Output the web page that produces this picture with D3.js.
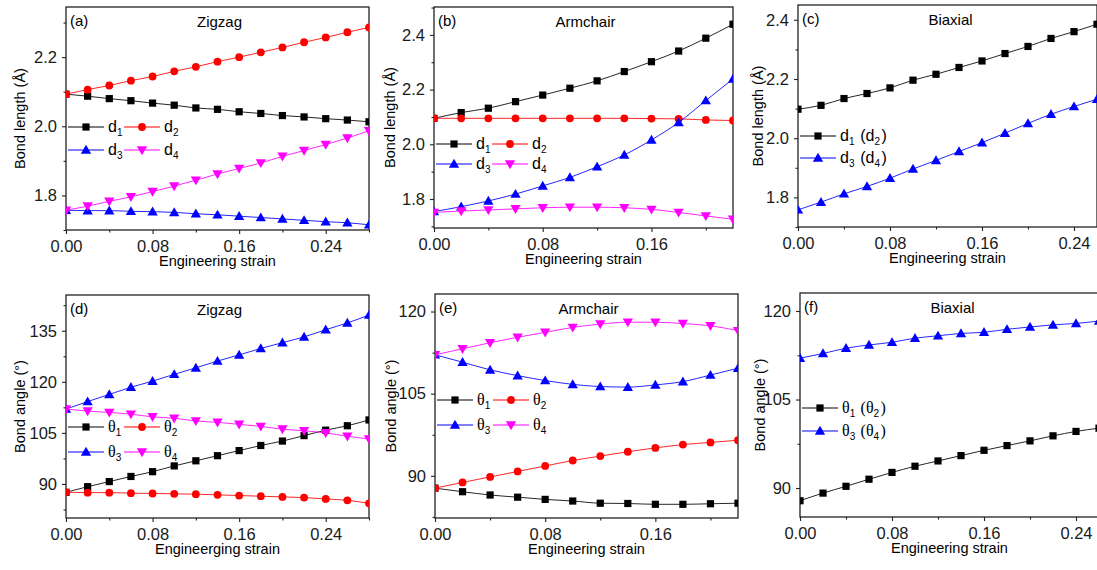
<!DOCTYPE html>
<html>
<head>
<meta charset="utf-8">
<script src="https://cdn.jsdelivr.net/npm/d3@7"></script>
<style>
  body { margin: 0; background: #fff; }
  svg { font-family: "Liberation Sans", Arial, sans-serif; }
</style>
</head>
<body>
<svg id="chart" width="1097" height="570"></svg>
<script>
// strain grids
const strain28 = [0, 0.02, 0.04, 0.06, 0.08, 0.10, 0.12, 0.14, 0.16, 0.18, 0.20, 0.22, 0.24, 0.26, 0.28];
const strain22 = [0, 0.02, 0.04, 0.06, 0.08, 0.10, 0.12, 0.14, 0.16, 0.18, 0.20, 0.22];
const strain26 = [0, 0.02, 0.04, 0.06, 0.08, 0.10, 0.12, 0.14, 0.16, 0.18, 0.20, 0.22, 0.24, 0.26];

// (a) zigzag bond lengths
const zzD1 = [2.093, 2.087, 2.080, 2.074, 2.067, 2.061, 2.053, 2.049, 2.042, 2.037, 2.031, 2.027, 2.022, 2.018, 2.013];
const zzD2 = [2.093, 2.106, 2.118, 2.132, 2.144, 2.159, 2.172, 2.187, 2.200, 2.214, 2.228, 2.243, 2.257, 2.272, 2.286];
const zzD3 = [1.757, 1.756, 1.756, 1.754, 1.753, 1.751, 1.747, 1.744, 1.740, 1.736, 1.732, 1.728, 1.724, 1.721, 1.715];
const zzD4 = [1.757, 1.769, 1.783, 1.796, 1.811, 1.827, 1.844, 1.862, 1.878, 1.894, 1.913, 1.930, 1.947, 1.966, 1.987];

// (b) armchair bond lengths
const acD1 = [2.095, 2.116, 2.132, 2.156, 2.180, 2.205, 2.232, 2.266, 2.302, 2.341, 2.388, 2.439];
const acD2 = [2.095, 2.095, 2.095, 2.095, 2.095, 2.095, 2.095, 2.095, 2.094, 2.093, 2.089, 2.087];
const acD3 = [1.754, 1.772, 1.793, 1.818, 1.848, 1.879, 1.918, 1.961, 2.016, 2.080, 2.160, 2.239];
const acD4 = [1.751, 1.756, 1.760, 1.764, 1.768, 1.770, 1.770, 1.768, 1.762, 1.751, 1.738, 1.726];

// (c) biaxial bond lengths
const bxD12 = [2.098, 2.111, 2.134, 2.151, 2.170, 2.196, 2.216, 2.239, 2.261, 2.286, 2.310, 2.337, 2.360, 2.385];
const bxD34 = [1.758, 1.784, 1.812, 1.837, 1.865, 1.896, 1.925, 1.955, 1.985, 2.017, 2.050, 2.081, 2.107, 2.132];

// (d) zigzag bond angles
const zzT1 = [87.55, 89.2, 90.7, 92.2, 93.6, 95.3, 96.8, 98.3, 99.8, 101.3, 102.6, 104.2, 105.8, 107.1, 108.8];
const zzT2 = [87.55, 87.45, 87.45, 87.3, 87.2, 87.1, 87.0, 86.8, 86.6, 86.4, 86.2, 86.0, 85.6, 85.2, 84.3];
const zzT3 = [112.0, 114.2, 116.3, 118.4, 120.2, 122.2, 124.1, 126.1, 127.9, 129.8, 131.5, 133.2, 135.3, 137.3, 139.6];
const zzT4 = [112.0, 111.4, 111.0, 110.5, 109.7, 109.3, 108.5, 108.1, 107.5, 106.9, 106.1, 105.6, 105.0, 104.0, 103.2];

// (e) armchair bond angles
const acT1 = [87.75, 87.1, 86.5, 86.1, 85.7, 85.4, 85.0, 84.95, 84.8, 84.8, 84.9, 85.0];
const acT2 = [87.75, 88.8, 89.8, 90.8, 91.8, 92.8, 93.6, 94.4, 95.1, 95.7, 96.1, 96.5];
const acT3 = [112.1, 110.75, 109.35, 108.3, 107.4, 106.7, 106.3, 106.2, 106.6, 107.2, 108.4, 109.65];
const acT4 = [112.1, 113.2, 114.3, 115.3, 116.2, 117.1, 117.7, 118.05, 118.05, 117.8, 117.4, 116.5];

// (f) biaxial bond angles
const bxT12 = [87.86, 89.15, 90.3, 91.5, 92.65, 93.7, 94.6, 95.5, 96.4, 97.2, 98.0, 98.85, 99.6, 100.15];
const bxT34 = [112.0, 112.8, 113.7, 114.25, 114.7, 115.4, 115.8, 116.2, 116.4, 116.9, 117.3, 117.65, 117.9, 118.3];

// tick labels
const xTicks28 = [0, 0.08, 0.16, 0.24];
const xTicks22 = [0, 0.08, 0.16];
const yTicksLenA = [1.8, 2.0, 2.2];
const yTicksLen = [1.8, 2.0, 2.2, 2.4];
const yTicksAngD = [90, 105, 120, 135];
const yTicksAng = [90, 105, 120];

const colors = { k: "#000000", r: "#ff0000", b: "#0000ff", m: "#ff00ff" };
const shapes = { k: "square", r: "circle", b: "up", m: "down" };

const panels = [
  { tag: "(a)", title: "Zigzag", box: [66, 369, 7, 230], xd: [0, 0.28], yd: [1.7, 2.345],
    xt: xTicks28, yt: yTicksLenA, ystep: 0.1, xs: strain28, ylab: "Bond length (Å)", ylx: 46,
    xlab: "Engineering strain", leg: [127, 150], theta: false,
    series: [["k", zzD1, "d_1"], ["r", zzD2, "d_2"], ["b", zzD3, "d_3"], ["m", zzD4, "d_4"]] },
  { tag: "(b)", title: "Armchair", box: [434, 733, 7, 228], xd: [0, 0.22], yd: [1.694, 2.502],
    xt: xTicks22, yt: yTicksLen, ystep: 0.1, xs: strain22, ylab: "Bond length (Å)", ylx: 44,
    xlab: "Engineering strain", leg: [144, 164], theta: false,
    series: [["k", acD1, "d_1"], ["r", acD2, "d_2"], ["b", acD3, "d_3"], ["m", acD4, "d_4"]] },
  { tag: "(c)", title: "Biaxial", box: [798, 1097, 5, 227], xd: [0, 0.26], yd: [1.7, 2.45],
    xt: xTicks28, yt: yTicksLen, ystep: 0.1, xs: strain26, ylab: "Bond length (Å)", ylx: 40,
    xlab: "Engineering strain", leg: [136, 158], theta: false, single: true,
    series: [["k", bxD12, "d_1 (d_2)"], ["b", bxD34, "d_3 (d_4)"]] },
  { tag: "(d)", title: "Zigzag", box: [66, 369, 295, 518], xd: [0, 0.28], yd: [80, 145.5],
    xt: xTicks28, yt: yTicksAngD, ystep: 7.5, xs: strain28, ylab: "Bond angle (°)", ylx: 46,
    xlab: "Engineerging strain", leg: [427, 452], theta: true,
    series: [["k", zzT1, "θ_1"], ["r", zzT2, "θ_2"], ["b", zzT3, "θ_3"], ["m", zzT4, "θ_4"]] },
  { tag: "(e)", title: "Armchair", box: [435, 738, 294, 518], xd: [0, 0.22], yd: [82.3, 123.2],
    xt: xTicks22, yt: yTicksAng, ystep: 7.5, xs: strain22, ylab: "Bond angle (°)", ylx: 44,
    xlab: "Engineering strain", leg: [400, 425], theta: true,
    series: [["k", acT1, "θ_1"], ["r", acT2, "θ_2"], ["b", acT3, "θ_3"], ["m", acT4, "θ_4"]] },
  { tag: "(f)", title: "Biaxial", box: [800, 1099, 293, 517], xd: [0, 0.26], yd: [85.1, 123.05],
    xt: xTicks28, yt: yTicksAng, ystep: 7.5, xs: strain26, ylab: "Bond angle (°)", ylx: 40,
    xlab: "Engineering strain", leg: [408, 431], theta: true, single: true,
    series: [["k", bxT12, "θ_1 (θ_2)"], ["b", bxT34, "θ_3 (θ_4)"]] }
];

const svg = d3.select("#chart");
const defs = svg.append("defs");

function drawMarker(g, shape, color, x, y) {
  if (shape === "square") {
    g.append("rect").attr("x", x - 3.6).attr("y", y - 3.6).attr("width", 7.2).attr("height", 7.2).attr("fill", color);
  } else if (shape === "circle") {
    g.append("circle").attr("cx", x).attr("cy", y).attr("r", 3.9).attr("fill", color);
  } else {
    const sym = d3.symbol().type(d3.symbolTriangle).size(46)();
    g.append("path").attr("d", sym).attr("fill", color)
      .attr("transform", `translate(${x},${y + (shape === "up" ? 0.8 : -0.8)})` + (shape === "down" ? " rotate(180)" : ""));
  }
}

// text with "_x" subscripts
function richText(t, str, theta) {
  const parts = str.split(/(_.)/).filter(s => s.length);
  parts.forEach(p => {
    if (p[0] === "_") {
      t.append("tspan").attr("font-size", 10).attr("dy", 4).text(p[1]);
      t.append("tspan").attr("dy", -4).text("\u200a");
    } else {
      t.append("tspan").attr("font-family", theta ? "'Liberation Serif', serif" : null).text(p);
    }
  });
}

panels.forEach((p, pi) => {
  const [x0, x1, y0, y1] = p.box;
  const x = d3.scaleLinear().domain(p.xd).range([x0, x1]);
  const y = d3.scaleLinear().domain(p.yd).range([y1, y0]);
  const g = svg.append("g");

  defs.append("clipPath").attr("id", "clip" + pi)
    .append("rect").attr("x", x0).attr("y", y0).attr("width", x1 - x0).attr("height", y1 - y0);

  // minor ticks
  const xMinor = d3.range(0.04, p.xd[1] + 1e-6, 0.08);
  const yMinor = d3.range(Math.ceil(p.yd[0] / p.ystep) * p.ystep, p.yd[1], p.ystep)
    .filter(v => !p.yt.some(t => Math.abs(t - v) < 1e-6));

  const xAxis = g.append("g").attr("transform", `translate(0,${y1})`)
    .call(d3.axisBottom(x).tickValues(p.xt).tickSize(4).tickSizeOuter(0).tickPadding(6).tickFormat(d3.format(".2f")));
  g.append("g").attr("transform", `translate(0,${y1})`)
    .call(d3.axisBottom(x).tickValues(xMinor).tickSize(2.5).tickFormat(""))
    .select(".domain").remove();
  const yAxis = g.append("g").attr("transform", `translate(${x0},0)`)
    .call(d3.axisLeft(y).tickValues(p.yt).tickSize(4).tickSizeOuter(0).tickPadding(5)
      .tickFormat(p.theta ? d3.format("d") : d3.format(".1f")));
  g.append("g").attr("transform", `translate(${x0},0)`)
    .call(d3.axisLeft(y).tickValues(yMinor).tickSize(2.5).tickFormat(""))
    .select(".domain").remove();

  [xAxis, yAxis].forEach(a => {
    a.select(".domain").remove();
    a.selectAll("text").attr("font-size", 16.5).attr("fill", "#1a1a1a").attr("font-family", "'Liberation Sans', Arial, sans-serif");
  });
  g.selectAll(".tick line").attr("stroke", "#222").attr("stroke-width", 1.1);

  // frame
  g.append("rect").attr("x", x0).attr("y", y0).attr("width", x1 - x0).attr("height", y1 - y0)
    .attr("fill", "none").attr("stroke", "#222").attr("stroke-width", 1.3);

  // series
  const plot = g.append("g").attr("clip-path", `url(#clip${pi})`);
  const line = d3.line().x(d => x(d[0])).y(d => y(d[1])).curve(d3.curveMonotoneX);
  p.series.forEach(([c, vals]) => {
    const pts = p.xs.map((s, i) => [s, vals[i]]);
    plot.append("path").attr("d", line(pts)).attr("fill", "none")
      .attr("stroke", colors[c]).attr("stroke-width", 1).attr("stroke-opacity", 0.85);
    pts.forEach(d => drawMarker(plot, shapes[c], colors[c], x(d[0]), y(d[1])));
  });

  // labels
  g.append("text").attr("x", x0 + 4).attr("y", y0 + 19).attr("font-size", 15).text(p.tag);
  g.append("text").attr("x", (x0 + x1) / 2 + (p.single ? 3 : 2)).attr("y", y0 + 20)
    .attr("text-anchor", "middle").attr("font-size", 15).text(p.title);
  g.append("text").attr("x", (x0 + x1) / 2).attr("y", y1 + 36)
    .attr("text-anchor", "middle").attr("font-size", 14.5).text(p.xlab);
  g.append("text").attr("transform", `translate(${x0 - p.ylx},${(y0 + y1) / 2}) rotate(-90)`)
    .attr("dy", "0.35em").attr("text-anchor", "middle").attr("font-size", 14.5).text(p.ylab);

  // legend
  p.series.forEach(([c, , lab], i) => {
    const col = p.single ? 0 : i % 2;
    const row = p.single ? i : Math.floor(i / 2);
    const lx = x0 + 2 + col * 56;
    const ly = p.leg[row];
    const lg = g.append("g");
    lg.append("line").attr("x1", lx).attr("x2", lx + 36).attr("y1", ly).attr("y2", ly)
      .attr("stroke", colors[c]).attr("stroke-width", 1);
    drawMarker(lg, shapes[c], colors[c], lx + 18, ly);
    const t = lg.append("text").attr("x", lx + 40).attr("y", ly + 5).attr("font-size", 16);
    richText(t, lab, p.theta);
  });
});
</script>
</body>
</html>
